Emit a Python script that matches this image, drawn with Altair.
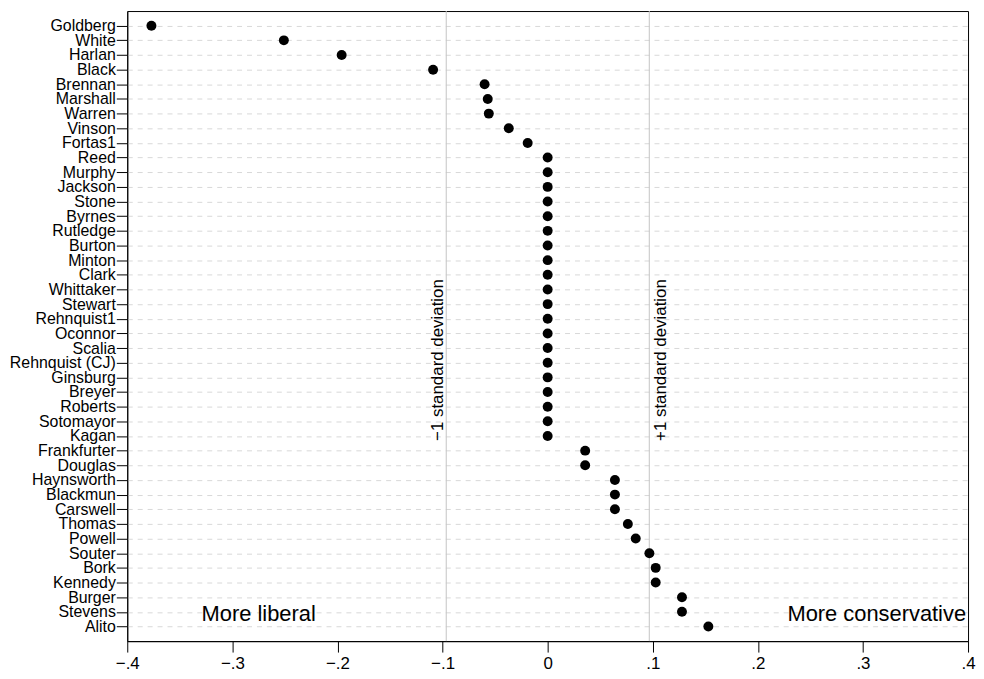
import altair as alt
import pandas as pd

justices = ["Goldberg", "White", "Harlan", "Black", "Brennan", "Marshall", "Warren",
            "Vinson", "Fortas1", "Reed", "Murphy", "Jackson", "Stone", "Byrnes",
            "Rutledge", "Burton", "Minton", "Clark", "Whittaker", "Stewart",
            "Rehnquist1", "Oconnor", "Scalia", "Rehnquist (CJ)", "Ginsburg", "Breyer",
            "Roberts", "Sotomayor", "Kagan", "Frankfurter", "Douglas", "Haynsworth",
            "Blackmun", "Carswell", "Thomas", "Powell", "Souter", "Bork", "Kennedy",
            "Burger", "Stevens", "Alito"]
scores = [-0.377, -0.251, -0.196, -0.109, -0.060, -0.057, -0.056,
          -0.037, -0.019, 0.0, 0.0, 0.0, 0.0, 0.0,
          0.0, 0.0, 0.0, 0.0, 0.0, 0.0,
          0.0, 0.0, 0.0, 0.0, 0.0, 0.0,
          0.0, 0.0, 0.0, 0.0357, 0.0357, 0.064,
          0.064, 0.064, 0.0763, 0.0838, 0.0968, 0.1028, 0.1028,
          0.1278, 0.1278, 0.1529]

sd_values = [-0.0965, 0.0967]
sd_labels = ["\u22121 standard deviation", "+1 standard deviation"]
sd_anchor_row = "Kagan"

side_labels = ["More liberal", "More conservative"]
side_x = [-0.275, 0.4]
side_row = "Stevens"

x_ticks = [-0.4, -0.3, -0.2, -0.1, 0.0, 0.1, 0.2, 0.3, 0.4]

FONT = "Liberation Sans"

df = pd.DataFrame({"justice": justices, "score": scores})
sd_df = pd.DataFrame({"x": sd_values, "label": sd_labels, "justice": [sd_anchor_row] * 2})
side_df = pd.DataFrame({"x": side_x, "label": side_labels, "justice": [side_row] * 2})

x_scale = alt.Scale(domain=[-0.4, 0.4], nice=False, zero=False)
y_scale = alt.Scale(padding=1.6)

x_axis = alt.Axis(
    title=None, values=x_ticks, grid=False,
    labelExpr="datum.value == 0 ? '0' : replace(replace(format(datum.value, '.1f'), '0.', '.'), '-', '\u2212')",
    tickSize=11, labelPadding=4, labelFontSize=17, labelFont=FONT, labelColor="black",
    domainColor="black", tickColor="black", labelFlush=False,
)
y_axis = alt.Axis(
    title=None, tickSize=11, labelPadding=1, labelFontSize=16, labelFont=FONT,
    labelColor="black", domainColor="black", tickColor="black",
    grid=True, gridDash=[5, 5], gridColor="#d8d8d8", gridWidth=1,
)

x_enc = alt.X("score:Q", scale=x_scale, axis=x_axis)
y_enc = alt.Y("justice:N", sort=justices, scale=y_scale, axis=y_axis)

rules = alt.Chart(sd_df).mark_rule(color="#c4c4c4", strokeWidth=1).encode(
    x=alt.X("x:Q", scale=x_scale, axis=x_axis)
)

dots = alt.Chart(df).mark_circle(size=100, color="black", opacity=1).encode(
    x=x_enc, y=y_enc
)

sd_minus = alt.Chart(sd_df.iloc[[0]]).mark_text(
    angle=270, align="left", baseline="alphabetic", dx=-5, dy=-3,
    fontSize=17, font=FONT, color="black"
).encode(
    x=alt.X("x:Q", scale=x_scale, axis=x_axis),
    y=alt.Y("justice:N", sort=justices, scale=y_scale, axis=y_axis),
    text="label:N",
)
sd_plus = alt.Chart(sd_df.iloc[[1]]).mark_text(
    angle=270, align="left", baseline="alphabetic", dx=-5, dy=17,
    fontSize=17, font=FONT, color="black"
).encode(
    x=alt.X("x:Q", scale=x_scale, axis=x_axis),
    y=alt.Y("justice:N", sort=justices, scale=y_scale, axis=y_axis),
    text="label:N",
)

liberal = alt.Chart(side_df.iloc[[0]]).mark_text(
    align="center", baseline="alphabetic", dy=9, fontSize=22, font=FONT, color="black"
).encode(
    x=alt.X("x:Q", scale=x_scale, axis=x_axis),
    y=alt.Y("justice:N", sort=justices, scale=y_scale, axis=y_axis),
    text="label:N",
)
conservative = alt.Chart(side_df.iloc[[1]]).mark_text(
    align="right", baseline="alphabetic", dx=-2, dy=9, fontSize=22, font=FONT, color="black"
).encode(
    x=alt.X("x:Q", scale=x_scale, axis=x_axis),
    y=alt.Y("justice:N", sort=justices, scale=y_scale, axis=y_axis),
    text="label:N",
)

chart = alt.layer(rules, dots, sd_minus, sd_plus, liberal, conservative).properties(
    width=846, height=634,
    padding={"top": 0, "left": 1, "right": 0, "bottom": 0},
    background="white",
).configure_view(
    stroke="black", strokeWidth=1
)

chart.save("out.html", embed_options={"renderer": "svg", "actions": False})
